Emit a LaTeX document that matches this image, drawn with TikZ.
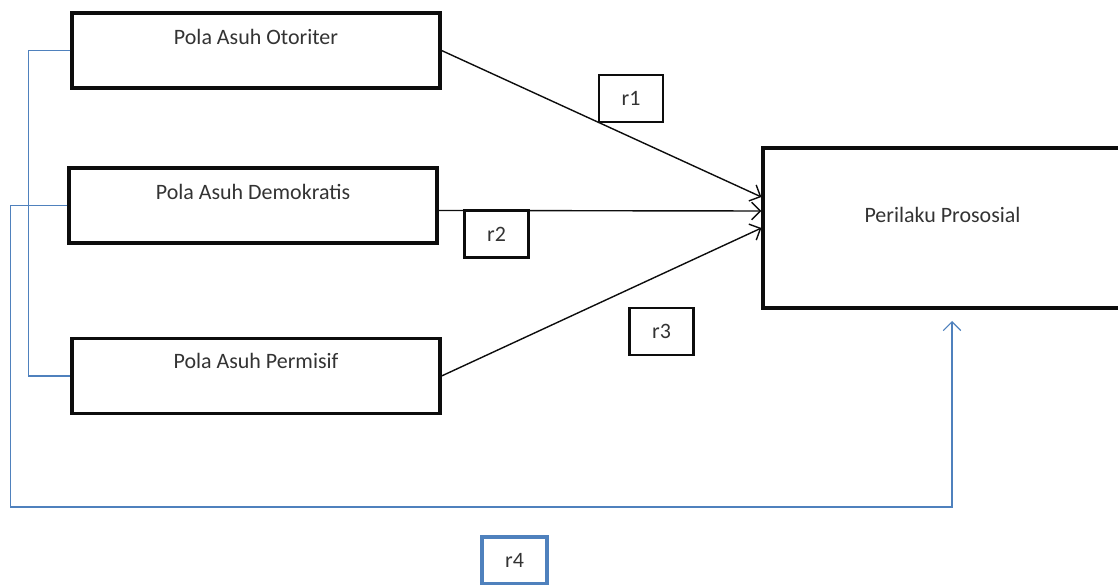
\documentclass[tikz,border=0pt]{standalone}
\usepackage{fontspec}
\setmainfont{Carlito}
\usetikzlibrary{arrows.meta, positioning}
\definecolor{boxBlack}{gray}{0.05}
\definecolor{textGray}{gray}{0.2}
\definecolor{lineBlue}{RGB}{79,129,189}

\begin{document}
\begin{tikzpicture}[
    font=\fontsize{12.5}{15}\selectfont,
    varbox/.style={draw=boxBlack, line width=1.8pt, minimum width=7.36cm, minimum height=1.5cm, inner sep=0pt},
    boxtext/.style={anchor=base, text=textGray},
    rbox/.style={draw=boxBlack, line width=1.5pt, minimum width=1.28cm, minimum height=0.94cm, inner sep=0pt, text=textGray},
    link/.style={-{Straight Barb[length=5pt,width=10pt]}, line width=0.8pt, boxBlack},
    bluelink/.style={lineBlue, line width=0.7pt}
]
    \useasboundingbox (0,0) rectangle (22.36,-11.7);

    % variabel bebas
    \node[varbox, label={[boxtext, yshift=-0.66cm]north:Pola Asuh Otoriter}] (otoriter) at (5.12,-1.01) {};
    \node[varbox, label={[boxtext, yshift=-0.66cm]north:Pola Asuh Demokratis}] (demokratis) at (5.06,-4.11) {};
    \node[varbox, label={[boxtext, yshift=-0.64cm]north:Pola Asuh Permisif}] (permisif) at (5.12,-7.52) {};

    % variabel terikat
    \node[varbox, minimum width=7.18cm, minimum height=3.2cm,
          label={[boxtext, yshift=-1.52cm]north:Perilaku Prososial}] (prososial) at (18.85,-4.56) {};

    % koefisien
    \node[rbox] (r1) at (12.62,-1.97) {r1};
    \node[rbox] (r2) at (9.93,-4.68) {r2};
    \node[rbox] (r3) at (13.23,-6.63) {r3};
    \node[rbox, draw=lineBlue, line width=1.8pt, minimum width=1.3cm] (r4) at (10.29,-11.21) {r4};

    % panah ke perilaku prososial
    \draw[link] (otoriter.east) -- ([yshift=0.62cm]prososial.west);
    \draw[link] ([yshift=-0.1cm]demokratis.east) -- ([yshift=0.34cm]prososial.west);
    \draw[link] (permisif.east) -- (prososial.west);

    % garis biru (simultan)
    \coordinate (r4corner) at (19.04,-10.14);
    \coordinate (r4tip) at (19.04,-6.42);
    \draw[bluelink] (otoriter.west) -- ++(-0.84,0) |- (permisif.west);
    \draw[bluelink, -{Straight Barb[length=5pt,width=10pt]}] (demokratis.west) -- ++(-1.14,0) |- (r4corner) -- (r4tip);
\end{tikzpicture}
\end{document}
